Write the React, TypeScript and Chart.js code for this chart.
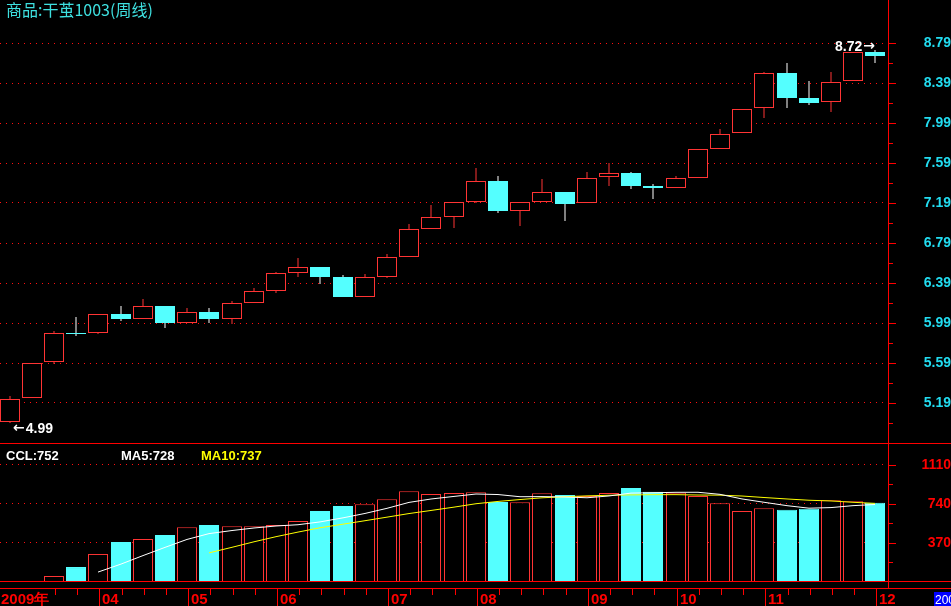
import React, { useEffect, useRef } from 'react';
import { Chart, registerables } from 'chart.js';

Chart.register(...registerables);

const TITLE = '商品:干茧1003(周线)';

const opens = [5.00, 5.24, 5.60, 5.89, 5.89, 6.08, 6.03, 6.16, 5.99, 6.10, 6.03, 6.19, 6.31, 6.49, 6.55, 6.45, 6.25, 6.45, 6.65, 6.93, 7.05, 7.20, 7.41, 7.11, 7.20, 7.30, 7.19, 7.45, 7.49, 7.36, 7.34, 7.44, 7.73, 7.89, 8.14, 8.49, 8.24, 8.20, 8.41, 8.70];
const highs = [5.26, 5.59, 5.91, 6.05, 6.08, 6.16, 6.23, 6.16, 6.14, 6.14, 6.21, 6.34, 6.50, 6.64, 6.55, 6.47, 6.48, 6.68, 6.98, 7.17, 7.20, 7.54, 7.46, 7.20, 7.43, 7.30, 7.50, 7.59, 7.50, 7.38, 7.46, 7.73, 7.93, 8.13, 8.50, 8.59, 8.41, 8.50, 8.70, 8.72];
const lows = [4.99, 5.24, 5.58, 5.86, 5.88, 6.01, 6.03, 5.94, 5.99, 5.99, 5.98, 6.19, 6.29, 6.45, 6.38, 6.25, 6.25, 6.44, 6.65, 6.93, 6.94, 7.19, 7.09, 6.96, 7.20, 7.01, 7.19, 7.36, 7.33, 7.23, 7.34, 7.44, 7.73, 7.89, 8.04, 8.14, 8.17, 8.10, 8.41, 8.59];
const closes = [5.23, 5.59, 5.89, 5.88, 6.08, 6.03, 6.16, 5.99, 6.10, 6.03, 6.19, 6.31, 6.49, 6.55, 6.45, 6.25, 6.45, 6.65, 6.93, 7.05, 7.20, 7.41, 7.11, 7.20, 7.30, 7.18, 7.44, 7.49, 7.36, 7.34, 7.44, 7.73, 7.88, 8.13, 8.49, 8.24, 8.19, 8.40, 8.70, 8.66];
const volumes = [0, 5, 57, 142, 266, 380, 408, 446, 519, 541, 528, 528, 541, 579, 674, 721, 737, 784, 860, 835, 844, 851, 759, 756, 841, 825, 815, 844, 892, 857, 847, 816, 746, 674, 699, 686, 696, 775, 766, 752];
const dateLabels = ['2009年', '', '', '', '04', '', '', '', '05', '', '', '', '06', '', '', '', '', '07', '', '', '', '08', '', '', '', '', '09', '', '', '', '10', '', '', '', '11', '', '', '', '', '12'];

const priceTicks = [5.19, 5.59, 5.99, 6.39, 6.79, 7.19, 7.59, 7.99, 8.39, 8.79];
const priceMinorTicks = [4.99, 5.39, 5.79, 6.19, 6.59, 6.99, 7.39, 7.79, 8.19, 8.59];
const volumeTicks = [370, 740, 1110];
const volumeMinorTicks = [185, 555, 925];

const legendCCL = 'CCL:752';
const legendMA5 = 'MA5:728';
const legendMA10 = 'MA10:737';
const cornerText = '200';

const RED = '#ff3434';
const AXIS_RED = '#ff0000';
const CYAN = '#54ffff';
const LABEL_CYAN = '#22dcf0';
const GRID_RED = '#ff1010';
const FONT = '"Liberation Sans", Arial, sans-serif';
const ARROW_FONT = 'bold 14px "DejaVu Sans"';

const movingAverage = (arr: number[], n: number) =>
  arr.map((_, i) => (i < n - 1 ? null : arr.slice(i - n + 1, i + 1).reduce((a, b) => a + b, 0) / n));

export default function App() {
  const topRef = useRef<HTMLCanvasElement>(null);
  const botRef = useRef<HTMLCanvasElement>(null);

  useEffect(() => {
    document.body.style.margin = '0';
    document.body.style.background = '#000';
    Chart.defaults.font.family = FONT;

    const idx = opens.map((_, i) => i);
    const up = closes.map((c, i) => c >= opens[i]);
    const ma5 = movingAverage(volumes, 5);
    const ma10 = movingAverage(volumes, 10);

    const xScale: any = {
      type: 'linear',
      display: false,
      min: -0.43,
      max: 39.57,
      offset: false,
      alignToPixels: true,
    };

    const fitRight = (scale: any) => {
      scale.width = 63;
      scale.paddingTop = 0;
      scale.paddingBottom = 0;
    };

    const priceDecor = {
      id: 'priceDecor',
      afterDraw(chart: any) {
        const { ctx } = chart;
        const y = chart.scales.y;
        const x = chart.scales.x;
        ctx.save();
        ctx.fillStyle = AXIS_RED;
        ctx.fillRect(0, 443, 951, 1);
        priceTicks.forEach((v) => ctx.fillRect(889, Math.round(y.getPixelForValue(v)), 7, 1));
        priceMinorTicks.forEach((v) => ctx.fillRect(889, Math.round(y.getPixelForValue(v)), 4, 1));

        ctx.font = '16px "Noto Sans CJK SC"';
        ctx.fillStyle = '#3ee0e0';
        ctx.textBaseline = 'alphabetic';
        ctx.textAlign = 'left';
        ctx.fillText(TITLE, 6, 16);

        const lowV = Math.min(...lows);
        const highV = Math.max(...highs);
        const iLow = lows.indexOf(lowV);
        const iHigh = highs.indexOf(highV);
        ctx.fillStyle = '#ffffff';
        ctx.textAlign = 'left';
        // low mark: arrow then value
        const lx = x.getPixelForValue(iLow) + 3;
        const ly = y.getPixelForValue(lowV) + 10;
        ctx.font = ARROW_FONT;
        const aw = ctx.measureText('←').width;
        ctx.fillText('←', lx, ly - 1);
        ctx.font = 'bold 14px ' + FONT;
        ctx.fillText(lowV.toFixed(2), lx + aw + 1, ly);
        // high mark: value then arrow
        const hx = x.getPixelForValue(iHigh);
        const hy = y.getPixelForValue(highV) + 1;
        ctx.textAlign = 'right';
        ctx.font = ARROW_FONT;
        const aw2 = ctx.measureText('→').width;
        ctx.fillText('→', hx, hy - 1);
        ctx.font = 'bold 14px ' + FONT;
        ctx.fillText(highV.toFixed(2), hx - aw2 - 1, hy);
        ctx.restore();
      },
    };

    const volDecor = {
      id: 'volDecor',
      afterDraw(chart: any) {
        const { ctx } = chart;
        const y = chart.scales.y;
        const x = chart.scales.x;
        ctx.save();
        ctx.fillStyle = AXIS_RED;
        ctx.fillRect(0, 137, 951, 1);
        ctx.fillRect(0, 144, 951, 1);
        ctx.fillRect(888, 137, 1, 8);
        volumeTicks.forEach((v) => ctx.fillRect(889, Math.round(y.getPixelForValue(v)), 7, 1));
        volumeMinorTicks.forEach((v) => ctx.fillRect(889, Math.round(y.getPixelForValue(v)), 4, 1));

        ctx.font = 'bold 13px ' + FONT;
        ctx.textBaseline = 'alphabetic';
        ctx.textAlign = 'left';
        ctx.fillStyle = '#ffffff';
        ctx.fillText(legendCCL, 6, 16);
        ctx.fillText(legendMA5, 121, 16);
        ctx.fillStyle = '#ffff00';
        ctx.fillText(legendMA10, 201, 16);

        ctx.font = 'bold 15px ' + FONT;
        ctx.fillStyle = AXIS_RED;
        dateLabels.forEach((lab, i) => {
          const X = Math.round(x.getPixelForValue(i)) + 1;
          if (i === 0) {
            ctx.fillText(lab, 1, 160);
            return;
          }
          if (X < 47) return;
          if (lab) {
            ctx.fillRect(X, 144, 1, 18);
            ctx.fillText(lab, X + 3, 160);
          } else {
            ctx.fillRect(X, 144, 1, 7);
          }
        });

        ctx.fillStyle = '#0000ff';
        ctx.fillRect(934, 148, 17, 14);
        ctx.fillStyle = '#ffffff';
        ctx.font = '12px ' + FONT;
        ctx.fillText(cornerText, 935, 160);
        ctx.restore();
      },
    };

    const top = new Chart(topRef.current as HTMLCanvasElement, {
      type: 'bar',
      data: {
        datasets: [
          {
            label: 'body',
            data: idx.map((i) => ({ x: i, y: [opens[i], closes[i]] })) as any,
            backgroundColor: up.map((u) => (u ? '#000000' : CYAN)),
            borderColor: up.map((u) => (u ? RED : CYAN)),
            borderWidth: 1,
            borderSkipped: false,
            barThickness: 20,
            grouped: false,
            minBarLength: 1,
            inflateAmount: 0,
          } as any,
          {
            label: 'wick',
            data: idx.map((i) => ({ x: i, y: [lows[i], highs[i]] })) as any,
            backgroundColor: up.map((u) => (u ? RED : '#ffffff')),
            borderWidth: 0,
            barThickness: 1,
            grouped: false,
            inflateAmount: 0,
          } as any,
        ],
      },
      options: {
        responsive: false,
        animation: false,
        events: [],
        layout: { padding: { left: 0, right: 0, top: 0, bottom: 1 } },
        plugins: { legend: { display: false }, tooltip: { enabled: false } },
        scales: {
          x: xScale,
          y: {
            position: 'right',
            min: 4.79,
            max: 9.22,
            afterBuildTicks: (scale: any) => {
              scale.ticks = priceTicks.map((v) => ({ value: v }));
            },
            afterFit: fitRight,
            ticks: {
              color: LABEL_CYAN,
              font: { family: FONT, size: 14, weight: 'bold' },
              crossAlign: 'far',
              padding: 30,
              autoSkip: false,
              callback: (v: any) => Number(v).toFixed(2),
            },
            grid: { color: GRID_RED, lineWidth: 1, drawTicks: false },
            border: { display: true, color: AXIS_RED, width: 1, dash: [1, 5] },
          } as any,
        },
      },
      plugins: [priceDecor],
    } as any);

    const bottom = new Chart(botRef.current as HTMLCanvasElement, {
      type: 'bar',
      data: {
        datasets: [
          {
            type: 'line',
            label: 'MA5',
            data: idx.map((i) => ({ x: i, y: ma5[i] })) as any,
            borderColor: '#ffffff',
            borderWidth: 1,
            pointRadius: 0,
            tension: 0,
            spanGaps: false,
          } as any,
          {
            type: 'line',
            label: 'MA10',
            data: idx.map((i) => ({ x: i, y: ma10[i] })) as any,
            borderColor: '#ffff00',
            borderWidth: 1,
            pointRadius: 0,
            tension: 0,
            spanGaps: false,
          } as any,
          {
            type: 'bar',
            label: 'CCL',
            data: idx.map((i) => ({ x: i, y: volumes[i] })) as any,
            backgroundColor: up.map((u) => (u ? '#000000' : CYAN)),
            borderColor: up.map((u) => (u ? RED : CYAN)),
            borderWidth: 1,
            borderSkipped: false,
            barThickness: 20,
            grouped: false,
            inflateAmount: 0,
          } as any,
        ],
      },
      options: {
        responsive: false,
        animation: false,
        events: [],
        layout: { padding: { left: 0, right: 0, top: 0, bottom: 24 } },
        plugins: { legend: { display: false }, tooltip: { enabled: false } },
        scales: {
          x: xScale,
          y: {
            position: 'right',
            min: 0,
            max: 1309.2,
            afterBuildTicks: (scale: any) => {
              scale.ticks = volumeTicks.map((v) => ({ value: v }));
            },
            afterFit: fitRight,
            ticks: {
              color: AXIS_RED,
              font: { family: FONT, size: 14, weight: 'bold' },
              crossAlign: 'far',
              padding: 25,
              autoSkip: false,
              callback: (v: any) => String(v),
            },
            grid: { color: GRID_RED, lineWidth: 1, drawTicks: false },
            border: { display: true, color: AXIS_RED, width: 1, dash: [1, 5] },
          } as any,
        },
      },
      plugins: [volDecor],
    } as any);

    return () => {
      top.destroy();
      bottom.destroy();
    };
  }, []);

  return (
    <div style={{ position: 'fixed', left: 0, top: 0, width: 951, height: 606, background: '#000', overflow: 'hidden' }}>
      <canvas ref={topRef} width={951} height={444} style={{ position: 'absolute', left: 0, top: 0, width: 951, height: 444 }} />
      <canvas ref={botRef} width={951} height={162} style={{ position: 'absolute', left: 0, top: 444, width: 951, height: 162 }} />
    </div>
  );
}
